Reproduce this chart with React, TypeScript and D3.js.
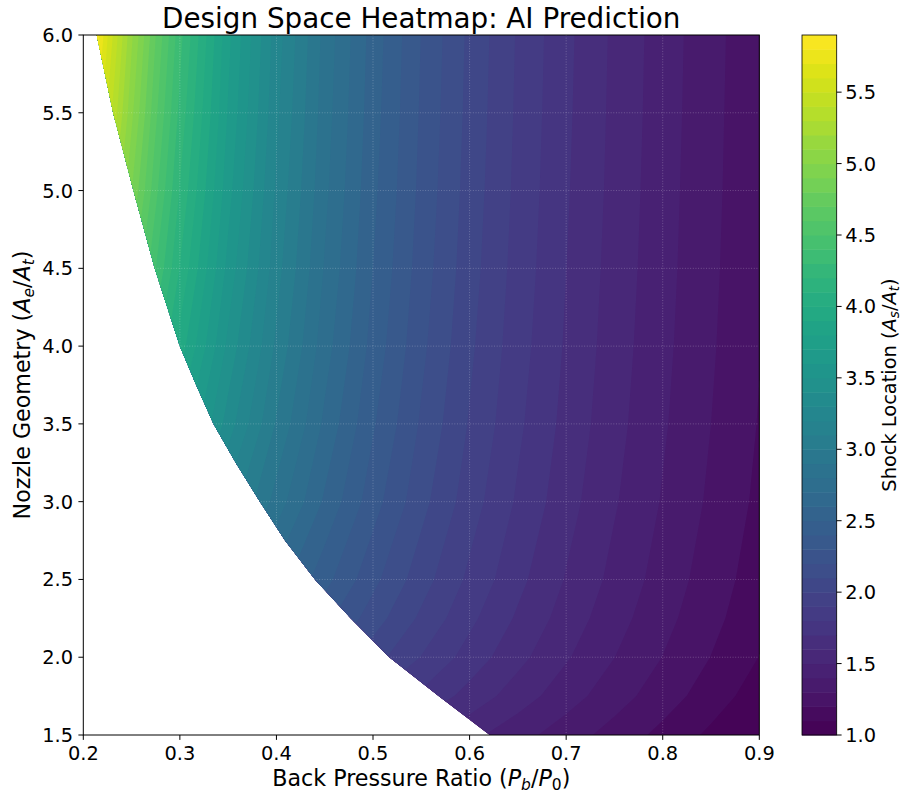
import React from 'react';
import * as d3 from 'd3';

// Grid of the field: Back pressure ratio (columns) x nozzle area ratio (rows)
const backPressure = [0.2, 0.225, 0.25, 0.275, 0.3, 0.35, 0.4, 0.45, 0.5, 0.55, 0.6, 0.65, 0.7, 0.75, 0.8, 0.85, 0.9];
const nozzleArea = [1.5, 1.75, 2.0, 2.25, 2.5, 3.0, 3.5, 4.0, 4.5, 5.0, 5.5, 6.0];

// Shock location As/At, one row per nozzleArea value
const shock_1_50 = [1.95, 1.93, 1.92, 1.9, 1.88, 1.864, 1.841, 1.785, 1.706, 1.621, 1.529, 1.437, 1.349, 1.26, 1.172, 1.079, 1.0];
const shock_1_75 = [2.32, 2.31, 2.29, 2.27, 2.25, 2.215, 2.13, 2.019, 1.901, 1.78, 1.663, 1.55, 1.444, 1.344, 1.247, 1.152, 1.049];
const shock_2_00 = [2.68, 2.66, 2.65, 2.63, 2.604, 2.498, 2.353, 2.194, 2.042, 1.896, 1.758, 1.63, 1.511, 1.401, 1.298, 1.198, 1.098];
const shock_2_25 = [3.03, 3.02, 3.01, 2.96, 2.895, 2.724, 2.528, 2.332, 2.149, 1.98, 1.825, 1.685, 1.557, 1.44, 1.332, 1.23, 1.129];
const shock_2_50 = [3.39, 3.39, 3.34, 3.249, 3.141, 2.9, 2.661, 2.435, 2.229, 2.044, 1.878, 1.728, 1.593, 1.471, 1.358, 1.252, 1.15];
const shock_3_00 = [4.13, 4.013, 3.853, 3.69, 3.509, 3.167, 2.858, 2.583, 2.343, 2.133, 1.948, 1.785, 1.64, 1.51, 1.392, 1.282, 1.178];
const shock_3_50 = [4.696, 4.482, 4.235, 4.004, 3.772, 3.353, 2.989, 2.678, 2.412, 2.186, 1.991, 1.82, 1.669, 1.534, 1.413, 1.3, 1.194];
const shock_4_00 = [5.143, 4.837, 4.526, 4.225, 3.959, 3.474, 3.079, 2.745, 2.464, 2.225, 2.02, 1.843, 1.688, 1.549, 1.426, 1.312, 1.205];
const shock_4_50 = [5.5, 5.1, 4.736, 4.403, 4.096, 3.568, 3.14, 2.791, 2.499, 2.252, 2.042, 1.86, 1.701, 1.56, 1.435, 1.32, 1.212];
const shock_5_00 = [5.776, 5.32, 4.904, 4.529, 4.193, 3.638, 3.183, 2.824, 2.524, 2.272, 2.057, 1.873, 1.711, 1.569, 1.441, 1.326, 1.217];
const shock_5_50 = [5.997, 5.484, 5.027, 4.623, 4.271, 3.69, 3.221, 2.848, 2.543, 2.286, 2.069, 1.882, 1.719, 1.575, 1.447, 1.33, 1.221];
const shock_6_00 = [6.165, 5.608, 5.121, 4.701, 4.336, 3.729, 3.25, 2.867, 2.557, 2.297, 2.077, 1.889, 1.725, 1.58, 1.451, 1.334, 1.224];
const shockRows = [shock_1_50, shock_1_75, shock_2_00, shock_2_25, shock_2_50, shock_3_00, shock_3_50, shock_4_00, shock_4_50, shock_5_00, shock_5_50, shock_6_00];

// Left edge of the valid (shock inside nozzle) region
const boundaryArea = [1.5, 1.75, 2.0, 2.25, 2.5, 2.75, 3.0, 3.25, 3.5, 3.75, 4.0, 4.5, 5.0, 5.5, 6.0];
const boundaryPressure = [0.621, 0.568, 0.517, 0.477, 0.44, 0.409, 0.383, 0.358, 0.335, 0.317, 0.3, 0.274, 0.252, 0.231, 0.214];

const xTicks = [0.2, 0.3, 0.4, 0.5, 0.6, 0.7, 0.8, 0.9];
const yTicks = [1.5, 2.0, 2.5, 3.0, 3.5, 4.0, 4.5, 5.0, 5.5, 6.0];
const cbarTicks = [1.0, 1.5, 2.0, 2.5, 3.0, 3.5, 4.0, 4.5, 5.0, 5.5];
const levelMin = 1.0;
const levelMax = 5.9;

const W = 903;
const H = 793;
const P = { left: 83.3, right: 759.3, top: 35, bottom: 735 };
const CB = { left: 802, right: 836.7, top: 35, bottom: 735 };
const FONT = '"DejaVu Sans", sans-serif';

export default function App() {
  const x = d3.scaleLinear().domain([0.2, 0.9]).range([P.left, P.right]);
  const y = d3.scaleLinear().domain([1.5, 6.0]).range([P.bottom, P.top]);
  const nx = backPressure.length;
  const ny = nozzleArea.length;
  const ix = d3.scaleLinear().domain(d3.range(nx)).range(backPressure);
  const iy = d3.scaleLinear().domain(d3.range(ny)).range(nozzleArea);

  const levels = d3.range(10, 60).map((i) => i / 10); // 1.0 .. 5.9
  const bandColor = (k: number) =>
    d3.interpolateViridis(((levels[k] + levels[k + 1]) / 2 - levelMin) / (levelMax - levelMin));

  const values = shockRows.flat();
  const contours = d3.contours().size([nx, ny]).thresholds(levels.slice(0, -1))(values);
  const proj = d3.geoTransform({
    point(px: number, py: number) {
      (this as any).stream.point(x(ix(px - 0.5)), y(iy(py - 0.5)));
    },
  });
  const path = d3.geoPath(proj as any);

  const clipPts: [number, number][] = boundaryArea.map((a, i) => [x(boundaryPressure[i]), y(a)]);
  clipPts.push([x(0.9), y(6.0)]);
  clipPts.push([x(0.9), y(1.5)]);
  const clipD = (d3.line()(clipPts) as string) + 'Z';

  const cy = d3.scaleLinear().domain([levelMin, levelMax]).range([CB.bottom, CB.top]);

  const gridStyle = { stroke: '#ffffff', strokeOpacity: 0.3, strokeWidth: 0.8, strokeDasharray: '1,1.65' };

  return (
    <svg width={W} height={H} style={{ position: 'absolute', left: 0, top: 0, background: '#fff' }} fontFamily={FONT}>
      <defs>
        <clipPath id="valid">
          <path d={clipD} />
        </clipPath>
      </defs>
      <rect x={0} y={0} width={W} height={H} fill="#fff" />
      <g clipPath="url(#valid)">
        {contours.map((c, k) => (
          <path key={k} d={path(c as any) || ''} fill={bandColor(k)} stroke="none" />
        ))}
      </g>
      {/* grid */}
      <g>
        {xTicks.slice(1, -1).map((t) => (
          <line key={'gx' + t} x1={x(t)} x2={x(t)} y1={P.top} y2={P.bottom} style={gridStyle} />
        ))}
        {yTicks.slice(1, -1).map((t) => (
          <line key={'gy' + t} x1={P.left} x2={P.right} y1={y(t)} y2={y(t)} style={gridStyle} />
        ))}
      </g>
      {/* axes frame */}
      <rect x={P.left} y={P.top} width={P.right - P.left} height={P.bottom - P.top} fill="none" stroke="#000" strokeWidth={1} />
      {xTicks.map((t) => (
        <g key={'xt' + t}>
          <line x1={x(t)} x2={x(t)} y1={P.bottom} y2={P.bottom + 4.9} stroke="#000" strokeWidth={1} />
          <text x={x(t)} y={760} fontSize={19.4} textAnchor="middle" fill="#000">
            {t.toFixed(1)}
          </text>
        </g>
      ))}
      {yTicks.map((t) => (
        <g key={'yt' + t}>
          <line x1={P.left - 4.9} x2={P.left} y1={y(t)} y2={y(t)} stroke="#000" strokeWidth={1} />
          <text x={73} y={y(t)} dy="0.36em" fontSize={19.4} textAnchor="end" fill="#000">
            {t.toFixed(1)}
          </text>
        </g>
      ))}
      {/* title */}
      <text x={(P.left + P.right) / 2} y={28} fontSize={27.8} textAnchor="middle" fill="#000">
        Design Space Heatmap: AI Prediction
      </text>
      {/* x label */}
      <text x={(P.left + P.right) / 2} y={786} fontSize={22.2} textAnchor="middle" fill="#000">
        Back Pressure Ratio (<tspan fontStyle="italic">P</tspan>
        <tspan fontStyle="italic" fontSize={15.5} dy={4}>b</tspan>
        <tspan dy={-4}>/</tspan>
        <tspan fontStyle="italic">P</tspan>
        <tspan fontSize={15.5} dy={4}>0</tspan>
        <tspan dy={-4}>)</tspan>
      </text>
      {/* y label */}
      <text transform={`translate(29.5,${(P.top + P.bottom) / 2}) rotate(-90)`} fontSize={22.2} textAnchor="middle" fill="#000">
        Nozzle Geometry (<tspan fontStyle="italic">A</tspan>
        <tspan fontStyle="italic" fontSize={15.5} dy={4}>e</tspan>
        <tspan dy={-4}>/</tspan>
        <tspan fontStyle="italic">A</tspan>
        <tspan fontStyle="italic" fontSize={15.5} dy={4}>t</tspan>
        <tspan dy={-4}>)</tspan>
      </text>
      {/* colorbar */}
      <g>
        {levels.slice(0, -1).map((lv, k) => (
          <rect
            key={'cb' + k}
            x={CB.left}
            y={cy(levels[k + 1])}
            width={CB.right - CB.left}
            height={cy(lv) - cy(levels[k + 1]) + 0.5}
            fill={bandColor(k)}
          />
        ))}
        <rect x={CB.left} y={CB.top} width={CB.right - CB.left} height={CB.bottom - CB.top} fill="none" stroke="#000" strokeWidth={0.8} />
        {cbarTicks.map((t) => (
          <g key={'ct' + t}>
            <line x1={CB.right} x2={CB.right + 4.9} y1={cy(t)} y2={cy(t)} stroke="#000" strokeWidth={1} />
            <text x={CB.right + 8.5} y={cy(t)} dy="0.36em" fontSize={19.4} textAnchor="start" fill="#000">
              {t.toFixed(1)}
            </text>
          </g>
        ))}
        <text transform={`translate(896,${(CB.top + CB.bottom) / 2}) rotate(-90)`} fontSize={19.4} textAnchor="middle" fill="#000">
          Shock Location (<tspan fontStyle="italic">A</tspan>
          <tspan fontStyle="italic" fontSize={13.6} dy={3}>s</tspan>
          <tspan dy={-3}>/</tspan>
          <tspan fontStyle="italic">A</tspan>
          <tspan fontStyle="italic" fontSize={13.6} dy={3}>t</tspan>
          <tspan dy={-3}>)</tspan>
        </text>
      </g>
    </svg>
  );
}
